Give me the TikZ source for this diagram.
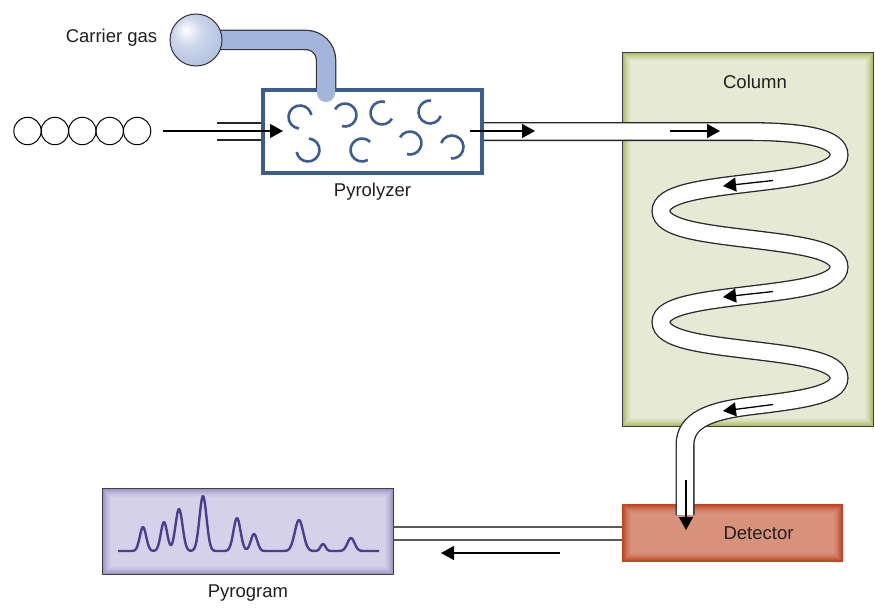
\documentclass[tikz,border=0pt]{standalone}
\usepackage{fontspec}
\setmainfont{Liberation Sans}
\usepackage{xcolor}
\usepackage{tikz}
\usetikzlibrary{
    arrows.meta,
    positioning,
    shapes.geometric
}
\definecolor{pyroblue}{HTML}{3D5C8F}
\definecolor{gasblue}{HTML}{A3B5DA}
\definecolor{colfill}{HTML}{E6E9D3}
\definecolor{colglow}{HTML}{A9B85E}
\definecolor{detfill}{HTML}{D8917A}
\definecolor{detglow}{HTML}{BE4424}
\definecolor{gramfill}{HTML}{D4D1E8}
\definecolor{gramglow}{HTML}{9A91C8}
\definecolor{traceviolet}{HTML}{4A3F8E}
\definecolor{labeltext}{HTML}{231F20}
\definecolor{pipegray}{HTML}{5A5A5A}

\pgfdeclareradialshading{bulbshade}{\pgfpoint{-10bp}{10bp}}{%
    color(0bp)=(white);
    color(14bp)=(gasblue!55);
    color(42bp)=(gasblue);
    color(60bp)=(gasblue!85!black)}

% soft inner edge of a box node
\newcommand{\glowframe}[2]{%
    \foreach \d/\o in {1.5/0.9,2.5/0.75,3.5/0.6,4.5/0.46,5.5/0.34,6.5/0.23,7.5/0.14,8.5/0.07}
        \draw[#2, opacity=\o, line width=1.05pt]
            ([xshift=\d pt, yshift=\d pt]#1.south west) rectangle
            ([xshift=-\d pt, yshift=-\d pt]#1.north east);
}

\tikzset{
    lbl/.style={font=\fontsize{18.5}{22}\selectfont, text=labeltext},
    flow/.style={draw=black, line width=1.3pt, -{Triangle[length=13pt, width=14pt]}},
    fragment/.style={draw=pyroblue, line width=2.6pt},
    bead/.style={draw=black, line width=1pt},
    pipe/.style={draw=pipegray, line width=1.6pt}
}

\begin{document}
\begin{tikzpicture}[x=1pt, y=-1pt,
    declare function={pk(\t,\c,\h,\s)=\h*exp(-min(((\t-\c)/\s)^2,20));}]

    \useasboundingbox[fill=white] (0,0) rectangle (875,610);

    % Column oven
    \node[rectangle, fill=colfill, minimum width=251pt, minimum height=374pt] (column) at (748,239.5) {};
    \glowframe{column}{colglow}
    \draw[black!75, line width=1.2pt] (column.south west) rectangle (column.north east);
    \node[lbl, below=19pt of column.north, xshift=7pt] (columnlbl) {Column};

    % Detector
    \node[rectangle, fill=detfill, minimum width=220pt, minimum height=57pt] (detector) at (732.5,533) {};
    \glowframe{detector}{detglow}
    \draw[detglow, line width=1pt] (detector.south west) rectangle (detector.north east);
    \node[lbl] (detectorlbl) at ([xshift=26pt]detector.center) {Detector};

    % Pyrogram display
    \node[rectangle, fill=gramfill, minimum width=291pt, minimum height=86pt] (pyrogram) at (248,531.5) {};
    \glowframe{pyrogram}{gramglow}
    \draw[black!75, line width=1.2pt] (pyrogram.south west) rectangle (pyrogram.north east);
    \node[lbl, below=7pt of pyrogram] (pyrogramlbl) {Pyrogram};
    \draw[traceviolet, line width=2.4pt, line join=round]
        plot[domain=118:379, samples=300]
        (\x, {551-pk(\x,143,24,4.5)-pk(\x,164,29,4.5)-pk(\x,179,42,5)-pk(\x,203,55,5)
              -pk(\x,237,33,5)-pk(\x,254,17,4.5)-pk(\x,299,31,6)-pk(\x,323,7,3.5)-pk(\x,351,13,5)});

    % Pyrolyzer
    \node[rectangle, draw=pyroblue, line width=4pt, fill=white,
          minimum width=219pt, minimum height=83pt] (pyro) at (372.5,131.5) {};
    \node[lbl, below=5pt of pyro] (pyrolbl) {Pyrolyzer};

    % fragments inside the pyrolyzer (gap angle, y axis points down)
    \foreach \x/\y/\g in {300/117/45, 345/115/160, 382/113/-20, 430/112/-30,
                          308/150/225, 362/150/10, 410/143/160, 452/147/150}
        \draw[fragment] ([shift={(\g+50:11.5)}]\x,\y) arc[start angle=\g+50, delta angle=255, radius=11.5];

    % Carrier gas supply
    \node[circle, minimum size=52pt] (bulb) at (196,40) {};
    \coordinate (inlet) at (326,93);
    \draw[black!80, line width=20.5pt, rounded corners=20pt] (bulb.center) -| (pyro.north -| inlet);
    \draw[gasblue, line width=18pt, rounded corners=20pt, line cap=round] (bulb.center) -| (inlet);
    \node[circle, draw=black!80, line width=1pt, shading=bulbshade, minimum size=52pt] at (bulb) {};
    \node[lbl, left=9pt of bulb, yshift=2pt] (gaslbl) {Carrier gas};

    % Sample chain and inlet
    \foreach \i in {0,...,4}
        \draw[bead] (27.5+27.4*\i,131) circle[radius=13.7];
    \draw[pipe, black!85] ([yshift=8.5pt]pyro.west) -- ++(-44,0);
    \draw[pipe, black!85] ([yshift=-8.5pt]pyro.west) -- ++(-44,0);
    \draw[flow] (163,131) -- (283,131);

    % Capillary through the column
    \coordinate (tubeend) at (685,515);
    \def\capillary{(pyro.east) -- (745,131.5)
        .. controls (805,131.5) and (839,138) .. (839,155)
        .. controls (839,172) and (800,177) .. (750,183)
        .. controls (700,189) and (661,194) .. (661,211)
        .. controls (661,228) and (700,233) .. (750,239)
        .. controls (800,245) and (839,250) .. (839,267)
        .. controls (839,284) and (800,289) .. (750,295)
        .. controls (700,301) and (661,306) .. (661,322)
        .. controls (661,339) and (700,344) .. (750,350)
        .. controls (800,356) and (839,361) .. (839,378)
        .. controls (839,395) and (800,400) .. (750,406)
        .. controls (710,411) and (685,420) .. (685,445)
        -- (tubeend)}
    \draw[black!85, line width=19pt] \capillary;
    \draw[white, line width=16.4pt] \capillary;

    % Flow markers
    \draw[flow] (470,131) -- (535,131);
    \draw[flow] (670,131) -- (720,131);
    \draw[flow] (773,180.5) -- (723,186);
    \draw[flow] (773,291.5) -- (723,297);
    \draw[flow] (773,404.5) -- (723,411);
    \draw[flow] (686,480) -- (686,530);

    % Signal line to the pyrogram
    \draw[pipe] ([yshift=6pt]detector.west) -- ([yshift=6pt]detector.west -| pyrogram.east);
    \draw[pipe] ([yshift=-7pt]detector.west) -- ([yshift=-7pt]detector.west -| pyrogram.east);
    \draw[flow] (560,553) -- (441,553);

\end{tikzpicture}
\end{document}
